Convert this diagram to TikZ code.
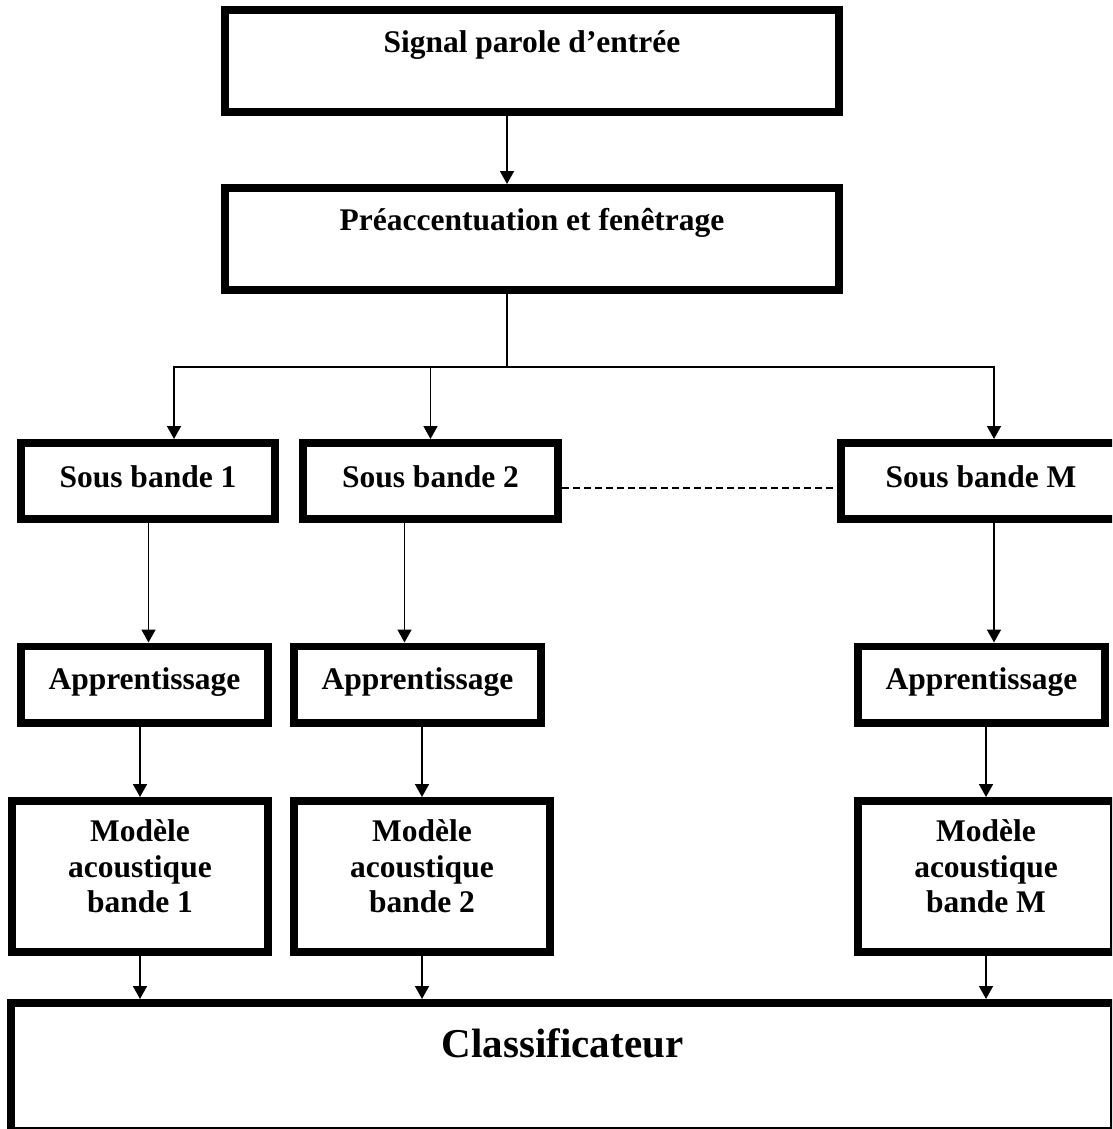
\documentclass[tikz,border=0pt]{standalone}
\usepackage{fontspec}
\setmainfont{Liberation Serif}
\usetikzlibrary{arrows.meta}
\begin{document}
\begin{tikzpicture}[x=1pt,y=-1pt,
  box/.style={draw, line width=7.6pt, inner sep=0pt,
    font=\fontsize{31.5}{35.5}\selectfont\bfseries, align=center},
  topbox/.style={box, anchor=base, minimum width=614.4pt},
  sbbox/.style={box, anchor=base, text height=44.2pt, text depth=32.2pt},
  appbox/.style={box, anchor=base, text height=43.2pt, text depth=33.2pt, minimum width=247.4pt},
  modbox/.style={box, minimum width=256.4pt, minimum height=151.4pt},
  modtext/.style={inner sep=0pt, font=\fontsize{31.5}{35.5}\selectfont\bfseries, align=center},
  conn/.style={line width=1.7pt},
  arr/.style={conn, -{Triangle[width=14pt,length=13pt]}},
]
\useasboundingbox (0,0) rectangle (1112,1129);
\clip (0,0) rectangle (1112,1129);
\fill[white] (0,0) rectangle (1112,1129);

% input and preprocessing stages
\node[topbox, text height=43.2pt, text depth=59.2pt] (b1) at (532,53) {Signal parole d’entrée};
\node[topbox, text height=42.2pt, text depth=60.2pt] (b2) at (532,230) {Préaccentuation et fenêtrage};

% sub-bands
\node[sbbox, minimum width=254.4pt] (sb1) at (148,487) {Sous bande 1};
\node[sbbox, minimum width=255.4pt] (sb2) at (430.5,487) {Sous bande 2};
\node[sbbox, minimum width=280.4pt] (sbm) at (981,487) {Sous bande M};

% training
\node[appbox] (a1) at (144.5,689.5) {Apprentissage};
\node[appbox] (a2) at (417.5,689.5) {Apprentissage};
\node[appbox] (am) at (981.5,689.5) {Apprentissage};

% acoustic models
\node[modbox] (m1) at (140,876.5) {};
\node[modbox] (m2) at (422,876.5) {};
\node[modbox] (mm) at (986,876.5) {};
\node[modtext, yshift=10pt] (m1t) at (m1.center) {Modèle\\acoustique\\bande 1};
\node[modtext, yshift=10pt] (m2t) at (m2.center) {Modèle\\acoustique\\bande 2};
\node[modtext, yshift=10pt] (mmt) at (mm.center) {Modèle\\acoustique\\bande M};

% classifier
\node[box, anchor=base, font=\fontsize{41}{45}\selectfont\bfseries, minimum width=1103.4pt,
      text height=54.2pt, text depth=74.2pt] (cls) at (562.5,1057) {Classificateur};

% connectors
\draw[arr] ([xshift=-25pt]b1.south) -- ([xshift=-25pt]b2.north);
\coordinate (b2out) at ([xshift=-25pt]b2.south);
\coordinate (split) at (b2out |- 0,366.7);
\draw[conn] (b2out) -- (split);
\draw[arr] (split) -| ([xshift=26pt]sb1.north);
\draw[arr] (split) -| (sb2.north);
\draw[arr] (split) -| ([xshift=13pt]sbm.north);

\draw[conn, dash pattern=on 7pt off 4pt] ([yshift=-7pt]sb2.east) -- ([yshift=-7pt]sbm.west);

\coordinate (s1o) at ([xshift=0.5pt]sb1.south);
\coordinate (s2o) at ([xshift=-26pt]sb2.south);
\coordinate (smo) at ([xshift=13pt]sbm.south);
\draw[arr] (s1o) -- (s1o |- a1.north);
\draw[arr] (s2o) -- (s2o |- a2.north);
\draw[arr] (smo) -- (smo |- am.north);

\draw[arr] (m1.north |- a1.south) -- (m1.north);
\draw[arr] (m2.north |- a2.south) -- (m2.north);
\draw[arr] (mm.north |- am.south) -- (mm.north);

\draw[arr] (m1.south) -- (m1.south |- cls.north);
\draw[arr] (m2.south) -- (m2.south |- cls.north);
\draw[arr] (mm.south) -- (mm.south |- cls.north);
\end{tikzpicture}
\end{document}
